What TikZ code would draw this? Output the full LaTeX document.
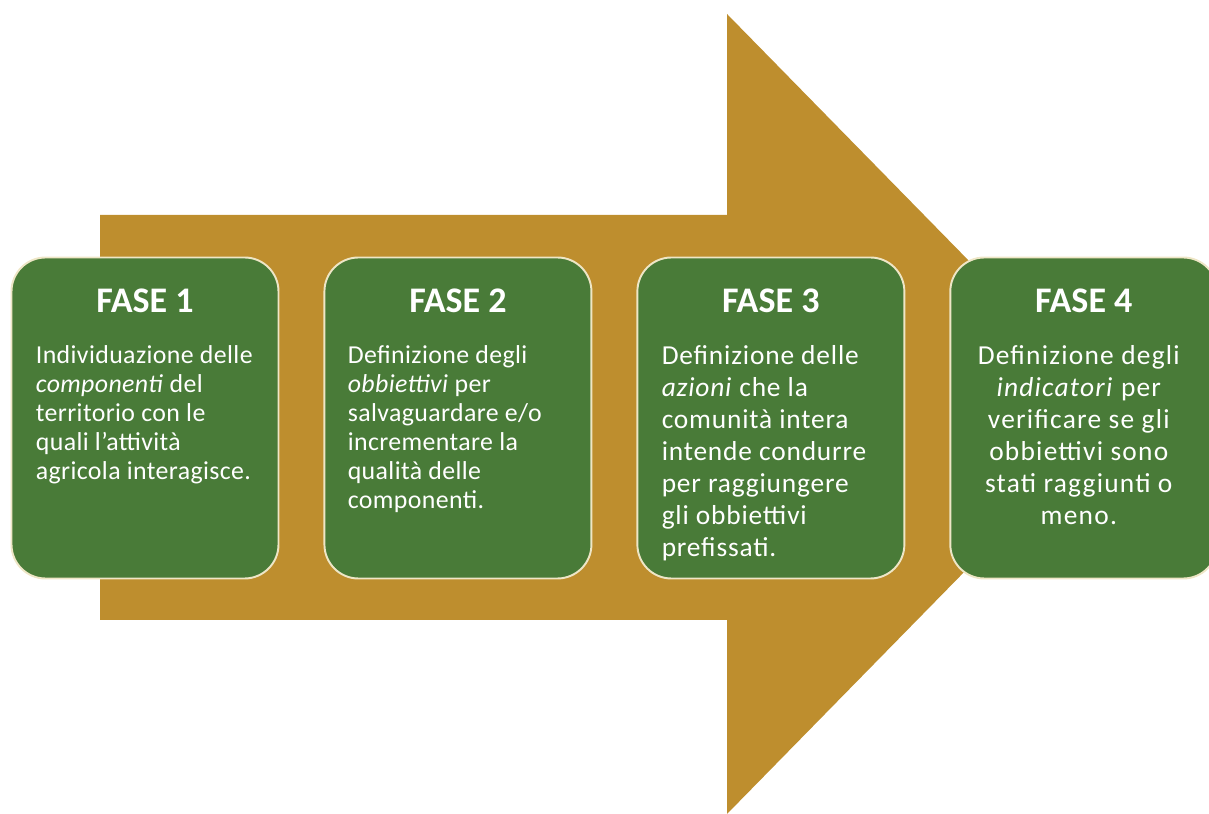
\documentclass[tikz,border=0pt]{standalone}
\usepackage{fontspec}
\setmainfont{Carlito}
\usetikzlibrary{positioning}
\definecolor{oro}{RGB}{190,142,46}
\definecolor{verde}{RGB}{73,123,56}
\definecolor{crema}{RGB}{238,230,198}
\tikzset{
  fase/.style={draw=crema, line width=1.1pt, fill=verde, rounded corners=0.68cm,
    minimum width=5.34cm, minimum height=6.42cm, inner sep=0pt},
  titolo/.style={text=white, inner sep=0pt, font=\bfseries\fontsize{20.5}{24}\selectfont},
  testo/.style={text=white, align=left, inner sep=0pt,
    font=\fontsize{14.7}{16.5}\selectfont\addfontfeature{LetterSpace=1.5}},
  testogr/.style={text=white, align=left, inner sep=0pt,
    font=\fontsize{15.6}{18.2}\selectfont\addfontfeature{LetterSpace=#1}},
  testogr/.default=3
}

\begin{document}
\begin{tikzpicture}
\useasboundingbox (0,0) rectangle (24.18,16.28);
\fill [oro] (2,11.98) -- (14.54,11.98) -- (14.54,16) -- (22.38,8) -- (14.54,0) -- (14.54,3.88) -- (2,3.88) -- cycle;
\node [fase] (box1) at (2.9,7.92) {};
\node [fase, right=0.88cm of box1] (box2) {};
\node [fase, right=0.88cm of box2] (box3) {};
\node [fase, right=0.88cm of box3] (box4) {};
\node [titolo, below=0.64cm of box1.north] (tit1) {FASE 1};
\node [titolo, below=0.64cm of box2.north] (tit2) {FASE 2};
\node [titolo, below=0.64cm of box3.north] (tit3) {FASE 3};
\node [titolo, below=0.64cm of box4.north] (tit4) {FASE 4};
\node [testo, below right=1.78cm and 0.5cm of box1.north west, anchor=north west] (txt1)
  {Individuazione delle\\ \emph{componenti} del\\ territorio con le\\ quali l’attività\\ agricola interagisce.};
\node [testo, below right=1.78cm and 0.48cm of box2.north west, anchor=north west] (txt2)
  {Definizione degli\\ \emph{obbiettivi} per\\ salvaguardare e/o\\ incrementare la\\ qualità delle\\ componenti.};
\node [testogr, below right=1.78cm and 0.5cm of box3.north west, anchor=north west] (txt3)
  {Definizione delle\\ \emph{azioni} che la\\ comunità intera\\ intende condurre\\ per raggiungere\\ gli obbiettivi\\ prefissati.};
\node [testogr=4.5, align=center, below=1.78cm of box4.north, xshift=-0.1cm] (txt4)
  {Definizione degli\\ \emph{indicatori} per\\ verificare se gli\\ obbiettivi sono\\ stati raggiunti o\\ meno.};
\end{tikzpicture}
\end{document}
